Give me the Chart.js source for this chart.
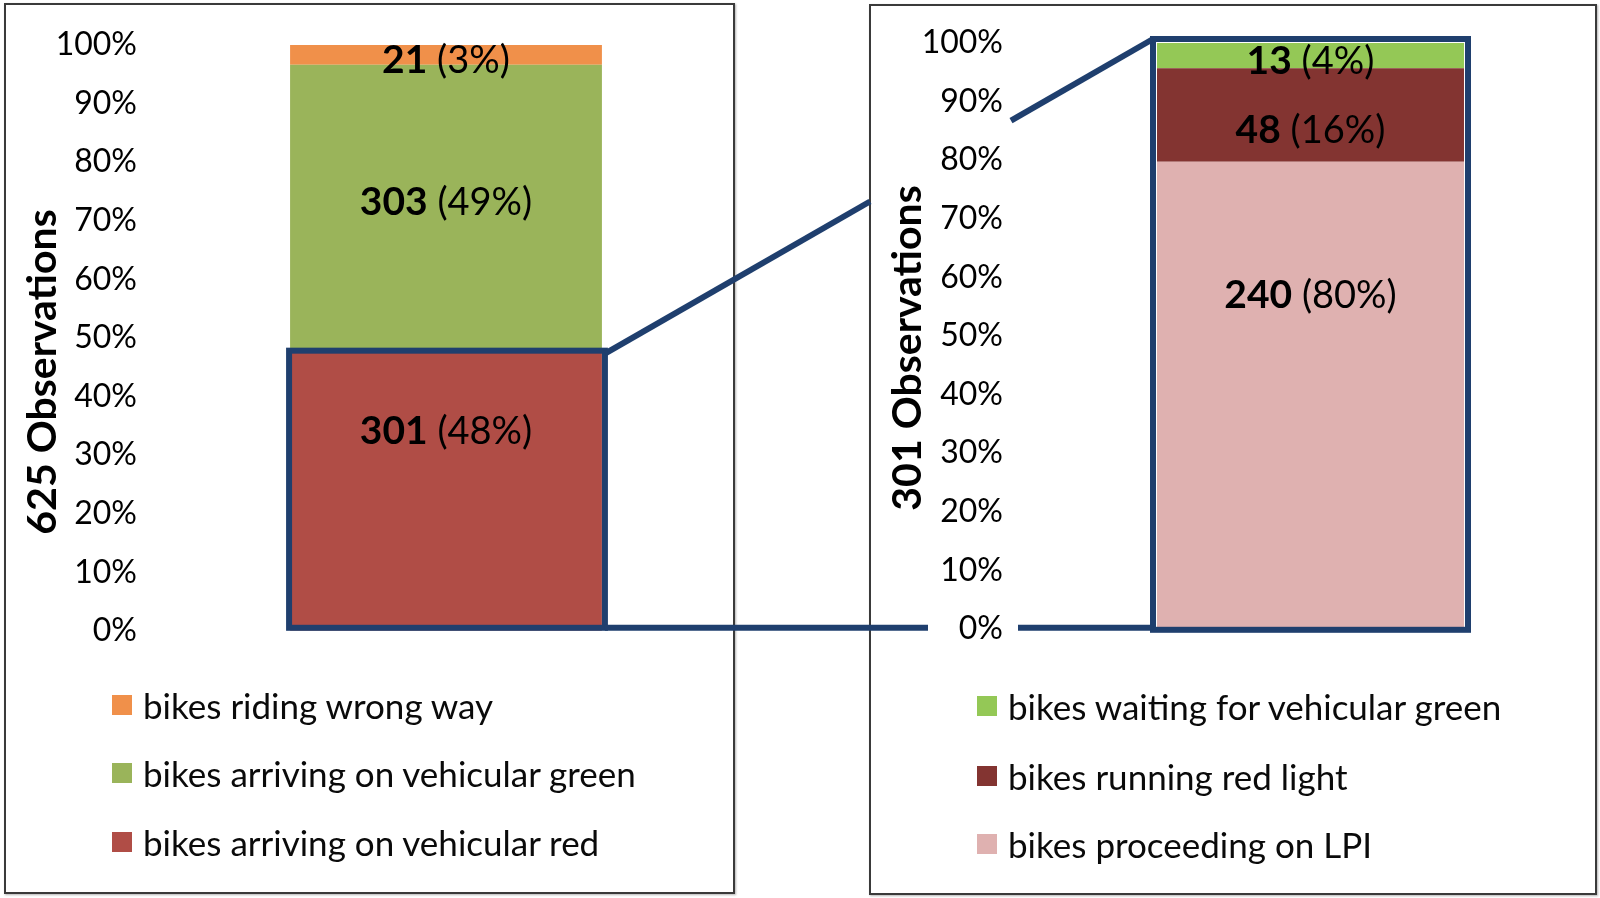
<!DOCTYPE html>
<html>
<head>
<meta charset="utf-8">
<script src="https://cdn.jsdelivr.net/npm/chart.js@4.4.1/dist/chart.umd.min.js"></script>
<style>
  html, body { margin: 0; padding: 0; width: 1600px; height: 898px; overflow: hidden; background: #fff; font-family: Lato, sans-serif; }
  .box { position: absolute; border: 2px solid #3a3a3a; box-sizing: border-box; box-shadow: 1px 1px 2px rgba(0,0,0,0.3); }
  canvas { position: absolute; }
  .item { position: absolute; height: 40px; display: flex; align-items: center; white-space: nowrap; font-size: 35px; color: #0a0a0a; }
  .item .sw { width: 20px; height: 20px; margin-right: 11px; flex: none; }
</style>
</head>
<body>
<div class="box" style="left:4px; top:3px; width:731px; height:891px;"></div>
<div class="box" style="left:869px; top:4px; width:728px; height:891px;"></div>
<canvas id="leftChart" width="743" height="655" style="left:4px; top:3px;"></canvas>
<canvas id="rightChart" width="740" height="653" style="left:870px; top:3px;"></canvas>
<canvas id="links" width="1600" height="898" style="left:0; top:0; pointer-events:none;"></canvas>
<div id="leftLegend"></div>
<div id="rightLegend"></div>
<script>
// left chart: all 625 observations (bottom to top)
const leftLabels = ['bikes arriving on vehicular red', 'bikes arriving on vehicular green', 'bikes riding wrong way'];
const leftCounts = [301, 303, 21];
const leftPct = [48, 49, 3];
const leftColors = ['#B04D46', '#9AB45A', '#F0904A'];

// right chart: the 301 arriving on red (bottom to top)
const rightLabels = ['bikes proceeding on LPI', 'bikes running red light', 'bikes waiting for vehicular green'];
const rightCounts = [240, 48, 13];
const rightPct = [80, 16, 4];
const rightColors = ['#DFB1B0', '#833431', '#94C856'];

const yTicks = [0, 10, 20, 30, 40, 50, 60, 70, 80, 90, 100];
const blue = '#1F3F6E';

// draws "count (pct%)" with the count in bold
const segLabels = {
  id: 'segLabels',
  afterDatasetsDraw(chart, args, opts) {
    const ctx = chart.ctx;
    const y = chart.scales.y;
    ctx.save();
    ctx.textBaseline = 'middle';
    ctx.fillStyle = '#000';
    opts.counts.forEach((cnt, i) => {
      const bar = chart.getDatasetMeta(i).data[0];
      const a = String(cnt), b = ' (' + opts.pct[i] + '%)';
      ctx.font = 'bold 39px Lato';
      const wa = ctx.measureText(a).width;
      ctx.font = '38px Lato';
      const wb = ctx.measureText(b).width;
      const x0 = bar.x - (wa + wb) / 2;
      const py = y.getPixelForValue(opts.at[i]);
      ctx.font = 'bold 39px Lato';
      ctx.textAlign = 'left';
      ctx.fillText(a, x0, py);
      ctx.font = '38px Lato';
      ctx.fillText(b, x0 + wa, py);
    });
    ctx.restore();
  }
};

const axisTitle = {
  id: 'axisTitle',
  afterDraw(chart, args, opts) {
    const ctx = chart.ctx;
    ctx.save();
    ctx.translate(opts.x, opts.y);
    ctx.rotate(-Math.PI / 2);
    ctx.font = 'bold 41px Lato';
    ctx.fillStyle = '#000';
    ctx.textAlign = 'center';
    ctx.textBaseline = 'alphabetic';
    ctx.fillText(opts.text, 0, 0);
    ctx.restore();
  }
};

// blue frame around some of the stacked segments
const frame = {
  id: 'frame',
  afterDatasetsDraw(chart, args, opts) {
    const lo = chart.getDatasetMeta(opts.from).data[0];
    const hi = chart.getDatasetMeta(opts.to).data[0];
    const ctx = chart.ctx;
    const p = opts.pad;
    const l = lo.x - lo.width / 2 - p[0], r = lo.x + lo.width / 2 + p[1];
    const t = hi.y - p[2], b = lo.base + p[3];
    ctx.save();
    ctx.strokeStyle = blue;
    ctx.lineWidth = 6;
    ctx.lineJoin = 'miter';
    ctx.strokeRect(l, t, r - l, b - t);
    ctx.restore();
    chart.$frame = { l, r, t, b };
  }
};

function makeChart(id, labels, counts, pct, colors, opts) {
  const total = counts.reduce((s, v) => s + v, 0);
  return new Chart(document.getElementById(id), {
    type: 'bar',
    data: {
      labels: [''],
      datasets: labels.map((lab, i) => ({
        label: lab,
        data: [counts[i] / total * 100],
        backgroundColor: colors[i],
        borderWidth: 0,
        barPercentage: opts.barPct,
        categoryPercentage: 1
      }))
    },
    options: {
      responsive: false,
      animation: false,
      events: [],
      layout: { padding: { top: opts.padTop, bottom: 20, left: 0, right: 0 } },
      scales: {
        x: { stacked: true, display: false },
        y: {
          stacked: true,
          min: 0,
          max: 100,
          afterBuildTicks: s => { s.ticks = yTicks.map(v => ({ value: v })); },
          afterFit: s => { s.width = opts.yWidth; },
          grid: { display: false, drawTicks: false },
          border: { display: false },
          ticks: {
            padding: 8,
            color: '#000',
            font: { family: 'Lato', size: 32 },
            callback: v => v + '%'
          }
        }
      },
      plugins: {
        legend: { display: false },
        tooltip: { enabled: false },
        segLabels: { counts, pct, at: opts.labelAt },
        axisTitle: { text: opts.title, x: opts.titleX, y: opts.titleY },
        frame: opts.frame
      }
    },
    plugins: [frame, segLabels, axisTitle]
  });
}

const leftChart = makeChart('leftChart', leftLabels, leftCounts, leftPct, leftColors, {
  barPct: 0.518, padTop: 42, yWidth: 141,
  labelAt: [34.0, 73.1, 97.3],
  title: '625 Observations', titleX: 52, titleY: 369,
  frame: { from: 0, to: 0, pad: [1, 3, -2, -3] }
});

const rightChart = makeChart('rightChart', rightLabels, rightCounts, rightPct, rightColors, {
  barPct: 0.5125, padTop: 40, yWidth: 141,
  labelAt: [56.9, 85.1, 96.8],
  title: '301 Observations', titleX: 51, titleY: 345,
  frame: { from: 0, to: 2, pad: [4, 4, 4, 1] }
});

function buildLegend(elId, labels, colors, left, rows) {
  const el = document.getElementById(elId);
  // legend lists the top segment first
  labels.slice().reverse().forEach((lab, k) => {
    const i = labels.length - 1 - k;
    const d = document.createElement('div');
    d.className = 'item';
    d.style.left = left + 'px';
    d.style.top = (rows[k] - 20) + 'px';
    d.innerHTML = '<span class="sw" style="background:' + colors[i] + '"></span>' + lab;
    el.appendChild(d);
  });
}
buildLegend('leftLegend', leftLabels, leftColors, 112, [705, 773, 842]);
buildLegend('rightLegend', rightLabels, rightColors, 977, [706, 776, 844]);

// zoom lines from the red segment to the breakdown bar
function drawLinks() {
  const ctx = document.getElementById('links').getContext('2d');
  const L = leftChart.$frame, R = rightChart.$frame;
  const lx = 4, ly = 3, rx = 870, ry = 3;
  const ra = rightChart.chartArea;
  const a = { x: lx + L.r, y: ly + L.t + 3 };
  const b = { x: rx + R.l, y: ry + R.t };
  const yAt = x => a.y + (b.y - a.y) * (x - a.x) / (b.x - a.x);
  const seg = (x1, y1, x2, y2) => { ctx.beginPath(); ctx.moveTo(x1, y1); ctx.lineTo(x2, y2); ctx.stroke(); };
  ctx.strokeStyle = blue;
  ctx.lineWidth = 6;
  const cut1 = rx, cut2 = rx + ra.left;
  seg(a.x, a.y, cut1, yAt(cut1));
  seg(cut2, yAt(cut2), b.x, b.y);
  const by = ly + L.b;
  seg(a.x, by, rx + ra.left - 83, by);
  seg(rx + ra.left + 7, by, b.x, by);
}
drawLinks();
</script>
</body>
</html>
